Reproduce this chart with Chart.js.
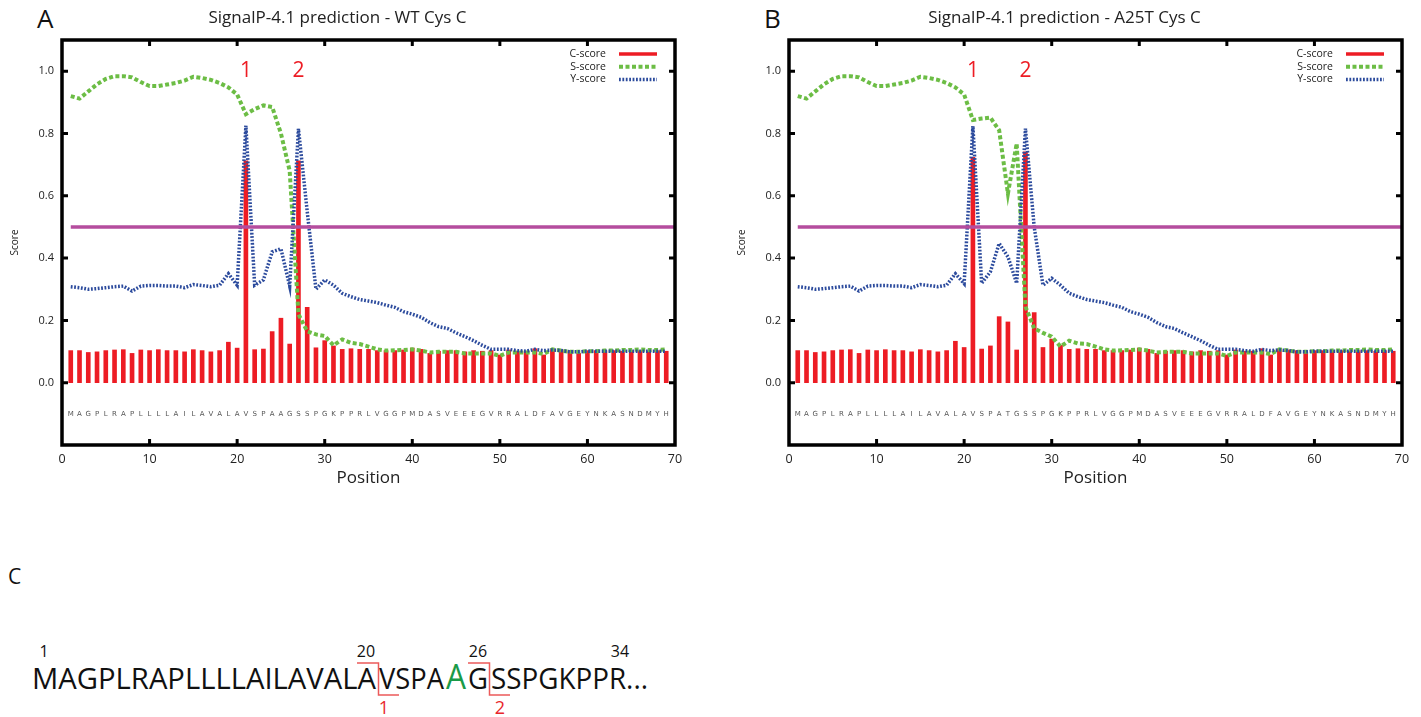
<!DOCTYPE html>
<html>
<head>
<meta charset="utf-8">
<script src="https://cdn.jsdelivr.net/npm/chart.js@4.4.1/dist/chart.umd.min.js"></script>
<style>
  body { margin: 0; background: #fff; width: 1421px; height: 717px; overflow: hidden; position: relative; font-family: "Open Sans", sans-serif; }
  .wrap { position: absolute; top: 0; width: 737px; height: 500px; }
  #labels { position: absolute; left: 0; top: 0; }
</style>
</head>
<body>
<svg id="labels" width="1421" height="717" font-family="Open Sans, sans-serif">
  <text x="37" y="28" font-size="26" fill="#111">A</text>
  <text x="764" y="28" font-size="26" fill="#111">B</text>
  <text x="8" y="584" font-size="21" fill="#111">C</text>

  <g font-size="16" fill="#111" text-anchor="middle">
    <text x="44" y="657">1</text>
    <text x="366" y="657">20</text>
    <text x="478" y="657">26</text>
    <text x="620" y="657">34</text>
  </g>
  <g font-size="29" fill="#111">
    <text x="32" y="689" textLength="344" lengthAdjust="spacingAndGlyphs">MAGPLRAPLLLLAILAVALA</text>
    <text x="379" y="689" textLength="65" lengthAdjust="spacingAndGlyphs">VSPA</text>
    <text x="446" y="689" font-size="34" fill="#1a9a48" textLength="20" lengthAdjust="spacingAndGlyphs">A</text>
    <text x="468" y="689" textLength="20" lengthAdjust="spacingAndGlyphs">G</text>
    <text x="491" y="689" textLength="157" lengthAdjust="spacingAndGlyphs">SSPGKPPR...</text>
  </g>
  <g stroke="#ec5a5a" stroke-width="1.5" fill="none">
    <path d="M357 663 H378.5 V695 H399"/>
    <path d="M468 663 H489.5 V695 H510"/>
  </g>
  <g font-size="18" fill="#e8262b" text-anchor="middle">
    <text x="384" y="714">1</text>
    <text x="500" y="714">2</text>
  </g>
</svg>

<div class="wrap" style="left:0"><canvas id="chartA"></canvas></div>
<div class="wrap" style="left:727px"><canvas id="chartB"></canvas></div>

<script>
// sequences shown along the bottom of each plot
const seqA = 'MAGPLRAPLLLLAILAVALAVSPAAGSSPGKPPRLVGGPMDASVEEEGVRRALDFAVGEYNKASNDMYH'.split('');
const seqB = 'MAGPLRAPLLLLAILAVALAVSPATGSSPGKPPRLVGGPMDASVEEEGVRRALDFAVGEYNKASNDMYH'.split('');
const positions = seqA.map((_, i) => i + 1);

const xTicks = [0, 10, 20, 30, 40, 50, 60, 70];
const yTicks = [0, 0.2, 0.4, 0.6, 0.8, 1.0];
const cutoff = 0.5;
const seqRowY = -0.1;
const peakPositions = [21, 27];
const peakLabels = ['1', '2'];

// WT Cys C
const cScoreA = [
  0.103, 0.103, 0.097, 0.099, 0.103, 0.105, 0.106, 0.094, 0.105, 0.103,
  0.106, 0.103, 0.103, 0.099, 0.106, 0.103, 0.099, 0.103, 0.130, 0.111,
  0.712, 0.106, 0.108, 0.164, 0.207, 0.124, 0.712, 0.242, 0.112, 0.135,
  0.118, 0.107, 0.109, 0.107, 0.107, 0.103, 0.103, 0.103, 0.105, 0.111,
  0.107, 0.094, 0.101, 0.103, 0.103, 0.099, 0.103, 0.101, 0.103, 0.089,
  0.105, 0.101, 0.101, 0.109, 0.089, 0.107, 0.105, 0.103, 0.094, 0.103,
  0.103, 0.103, 0.103, 0.101, 0.103, 0.103, 0.101, 0.103, 0.101
];
const sScoreA = [
  0.920, 0.912, 0.935, 0.958, 0.975, 0.984, 0.984, 0.980, 0.965, 0.952,
  0.952, 0.957, 0.962, 0.970, 0.982, 0.978, 0.972, 0.962, 0.948, 0.925,
  0.862, 0.878, 0.890, 0.885, 0.800, 0.680, 0.220, 0.165, 0.155, 0.150,
  0.120, 0.139, 0.128, 0.124, 0.116, 0.107, 0.103, 0.104, 0.105, 0.107,
  0.103, 0.097, 0.099, 0.099, 0.099, 0.094, 0.094, 0.094, 0.094, 0.086,
  0.097, 0.097, 0.097, 0.097, 0.092, 0.107, 0.103, 0.099, 0.099, 0.101,
  0.101, 0.103, 0.103, 0.105, 0.105, 0.107, 0.105, 0.105, 0.107
];
const yScoreA = [
  0.308, 0.305, 0.300, 0.302, 0.305, 0.308, 0.310, 0.294, 0.310, 0.312,
  0.312, 0.310, 0.310, 0.305, 0.315, 0.312, 0.308, 0.313, 0.350, 0.313,
  0.825, 0.313, 0.330, 0.420, 0.430, 0.310, 0.815, 0.550, 0.300, 0.330,
  0.313, 0.287, 0.276, 0.267, 0.262, 0.257, 0.249, 0.242, 0.228, 0.220,
  0.210, 0.193, 0.180, 0.174, 0.160, 0.148, 0.135, 0.120, 0.107, 0.107,
  0.107, 0.103, 0.101, 0.107, 0.103, 0.105, 0.103, 0.099, 0.099, 0.101,
  0.101, 0.101, 0.101, 0.101, 0.101, 0.101, 0.101, 0.101, 0.101
];

// A25T Cys C
const cScoreB = [
  0.103, 0.103, 0.097, 0.099, 0.103, 0.105, 0.106, 0.094, 0.105, 0.103,
  0.106, 0.103, 0.103, 0.099, 0.106, 0.103, 0.099, 0.103, 0.133, 0.113,
  0.723, 0.108, 0.118, 0.212, 0.195, 0.105, 0.741, 0.225, 0.113, 0.140,
  0.120, 0.107, 0.109, 0.107, 0.107, 0.103, 0.103, 0.103, 0.105, 0.111,
  0.107, 0.094, 0.101, 0.103, 0.103, 0.099, 0.103, 0.101, 0.103, 0.089,
  0.105, 0.101, 0.101, 0.109, 0.089, 0.107, 0.105, 0.103, 0.094, 0.103,
  0.103, 0.103, 0.103, 0.101, 0.103, 0.103, 0.101, 0.103, 0.101
];
const sScoreB = [
  0.920, 0.912, 0.935, 0.958, 0.975, 0.984, 0.984, 0.980, 0.965, 0.952,
  0.952, 0.957, 0.962, 0.970, 0.982, 0.978, 0.972, 0.962, 0.948, 0.925,
  0.843, 0.848, 0.851, 0.810, 0.607, 0.768, 0.244, 0.174, 0.160, 0.148,
  0.116, 0.135, 0.126, 0.124, 0.116, 0.107, 0.103, 0.104, 0.105, 0.107,
  0.103, 0.097, 0.099, 0.099, 0.099, 0.094, 0.094, 0.094, 0.094, 0.086,
  0.097, 0.097, 0.097, 0.097, 0.092, 0.107, 0.103, 0.099, 0.099, 0.101,
  0.101, 0.103, 0.103, 0.105, 0.105, 0.107, 0.105, 0.105, 0.107
];
const yScoreB = [
  0.308, 0.305, 0.300, 0.302, 0.305, 0.308, 0.310, 0.294, 0.310, 0.312,
  0.312, 0.310, 0.310, 0.305, 0.315, 0.312, 0.308, 0.313, 0.350, 0.318,
  0.824, 0.319, 0.356, 0.447, 0.404, 0.319, 0.816, 0.500, 0.313, 0.335,
  0.313, 0.287, 0.276, 0.267, 0.262, 0.257, 0.249, 0.242, 0.228, 0.220,
  0.210, 0.193, 0.180, 0.174, 0.160, 0.148, 0.135, 0.120, 0.107, 0.107,
  0.107, 0.103, 0.101, 0.107, 0.103, 0.105, 0.103, 0.099, 0.099, 0.101,
  0.101, 0.101, 0.101, 0.101, 0.101, 0.101, 0.101, 0.101, 0.101
];

const RED = '#ed1c24';
const GREEN = '#6cbd45';
const BLUE = '#2c4b9d';
const PURPLE = '#b54d9e';
const FONT = '"Open Sans", sans-serif';

const legendItems = [
  { label: 'C-score', color: RED, dash: [], width: 3.5 },
  { label: 'S-score', color: GREEN, dash: [4, 2.5], width: 4 },
  { label: 'Y-score', color: BLUE, dash: [1.8, 1.6], width: 3.5 }
];

// box, inner ticks, legend, peak numbers and residue letters
const decor = {
  id: 'decor',
  afterDatasetsDraw(chart, args, opts) {
    const { ctx, chartArea: a, scales: { x, y } } = chart;
    ctx.save();

    ctx.fillStyle = '#555';
    ctx.font = '7px "DejaVu Sans", sans-serif';
    ctx.textAlign = 'center';
    ctx.textBaseline = 'middle';
    opts.sequence.forEach((c, i) => {
      ctx.fillText(c, x.getPixelForValue(positions[i]), y.getPixelForValue(seqRowY));
    });

    ctx.fillStyle = RED;
    ctx.font = '21px ' + FONT;
    peakPositions.forEach((p, i) => {
      ctx.fillText(peakLabels[i], x.getPixelForValue(p), y.getPixelForValue(1.0));
    });

    ctx.font = '10.5px ' + FONT;
    ctx.textAlign = 'right';
    legendItems.forEach((it, i) => {
      const ly = a.top + 14 + i * 12.7;
      ctx.fillStyle = '#222';
      ctx.fillText(it.label, a.right - 69, ly);
      ctx.strokeStyle = it.color;
      ctx.lineWidth = it.width;
      ctx.setLineDash(it.dash);
      ctx.beginPath();
      ctx.moveTo(a.right - 56, ly);
      ctx.lineTo(a.right - 18, ly);
      ctx.stroke();
    });

    ctx.setLineDash([]);
    ctx.strokeStyle = '#000';
    ctx.lineWidth = 3.5;
    ctx.strokeRect(a.left, a.top, a.width, a.height);
    ctx.lineWidth = 3;
    ctx.beginPath();
    yTicks.forEach(v => {
      const py = y.getPixelForValue(v);
      ctx.moveTo(a.left, py); ctx.lineTo(a.left + 6, py);
      ctx.moveTo(a.right, py); ctx.lineTo(a.right - 6, py);
    });
    xTicks.slice(1, -1).forEach(v => {
      const px = x.getPixelForValue(v);
      ctx.moveTo(px, a.top); ctx.lineTo(px, a.top + 6);
      ctx.moveTo(px, a.bottom); ctx.lineTo(px, a.bottom - 6);
    });
    ctx.stroke();
    ctx.restore();
  }
};

function pts(vals) {
  return vals.map((v, i) => ({ x: positions[i], y: v }));
}

function makeChart(id, title, seq, cScore, sScore, yScore) {
  return new Chart(document.getElementById(id), {
    type: 'bar',
    data: {
      datasets: [
        {
          type: 'line', label: 'cutoff',
          data: [{ x: positions[0], y: cutoff }, { x: xTicks[xTicks.length - 1], y: cutoff }],
          borderColor: PURPLE, borderWidth: 3.5, pointRadius: 0, order: 0
        },
        {
          type: 'line', label: 'Y-score', data: pts(yScore),
          borderColor: BLUE, borderWidth: 3.5, borderDash: [1.8, 1.6],
          pointRadius: 0, tension: 0, order: 1
        },
        {
          type: 'line', label: 'S-score', data: pts(sScore),
          borderColor: GREEN, borderWidth: 4, borderDash: [4, 2.5],
          pointRadius: 0, tension: 0, order: 2
        },
        {
          type: 'bar', label: 'C-score', data: pts(cScore),
          backgroundColor: RED, barThickness: 4, grouped: false, order: 3
        }
      ]
    },
    options: {
      responsive: true,
      maintainAspectRatio: false,
      animation: false,
      layout: { padding: { left: 0, right: 62, top: 0, bottom: 0 } },
      plugins: {
        legend: { display: false },
        tooltip: { enabled: false },
        title: {
          display: true, text: title, color: '#222',
          font: { family: FONT, size: 17, weight: 'normal' },
          padding: { top: 8, bottom: 11.6 }
        },
        decor: { sequence: seq }
      },
      scales: {
        x: {
          type: 'linear', min: 0, max: 70, offset: false,
          grid: { display: false, drawTicks: false },
          border: { display: false },
          afterBuildTicks: s => { s.ticks = xTicks.map(v => ({ value: v })); },
          afterFit: s => { s.height = 55; },
          ticks: { color: '#222', padding: 7, maxRotation: 0, font: { family: FONT, size: 12.5 } },
          title: {
            display: true, text: 'Position', color: '#222',
            font: { family: FONT, size: 17 }, padding: { top: 0, bottom: 12 }
          }
        },
        y: {
          min: -0.2, max: 1.1,
          grid: { display: false, drawTicks: false },
          border: { display: false },
          afterBuildTicks: s => { s.ticks = yTicks.map(v => ({ value: v })); },
          afterFit: s => { s.width = 62; },
          ticks: {
            color: '#222', padding: 8, font: { family: FONT, size: 11 },
            callback: v => v.toFixed(1)
          },
          title: {
            display: true, text: 'Score', color: '#222',
            font: { family: FONT, size: 10 }, padding: { top: 9, bottom: 0 }
          }
        }
      }
    },
    plugins: [decor]
  });
}

makeChart('chartA', 'SignalP-4.1 prediction - WT Cys C', seqA, cScoreA, sScoreA, yScoreA);
makeChart('chartB', 'SignalP-4.1 prediction - A25T Cys C', seqB, cScoreB, sScoreB, yScoreB);
</script>
</body>
</html>
